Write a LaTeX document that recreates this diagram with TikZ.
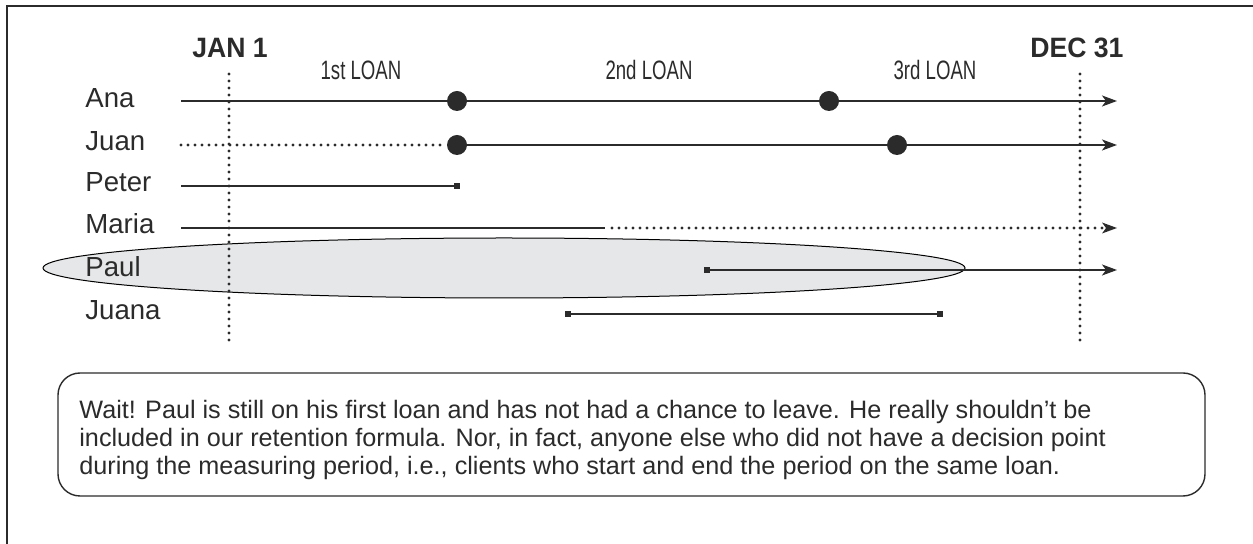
\documentclass[tikz,border=0pt]{standalone}
\usepackage{fontspec}
\setmainfont{Liberation Sans}
\usetikzlibrary{arrows.meta}
\definecolor{ink}{HTML}{2B2B2B}
\definecolor{ellfill}{HTML}{E6E7E8}
\tikzset{
  tl/.style={draw=ink, line width=0.8pt},
  dotline/.style={draw=ink, line width=1.6pt, line cap=round, dash pattern=on 0pt off 3.5pt},
  arr/.style={-{Stealth[length=7.5pt,width=5.5pt,inset=2pt]}},
  bigdot/.style={circle, fill=ink, inner sep=0pt, minimum size=10pt},
  sq/.style={rectangle, fill=ink, inner sep=0pt, minimum size=3pt},
  pname/.style={anchor=base west, inner sep=0pt, font=\fontsize{13.8}{16}\selectfont, text=ink},
  datelbl/.style={anchor=base west, inner sep=0pt, font=\fontsize{14}{16}\selectfont\bfseries, text=ink},
  loanlbl/.style={anchor=base, inner sep=0pt, text=ink},
}
\newcommand{\loanlabel}[1]{\scalebox{0.7}[1]{\fontsize{13.3}{15}\selectfont #1}}
\begin{document}
\begin{tikzpicture}[x=0.5pt, y=-0.5pt]
\useasboundingbox (0,0) rectangle (1253,544);
% frame (top and left)
\draw[line width=0.75pt, draw=ink] (7,544) -- (7,6) -- (1253,6);

% ellipse around Paul
\fill[ellfill] (504,268) ellipse [x radius=461, y radius=30];
\draw[line width=0.5pt, draw=black] (504,268) ellipse [x radius=461, y radius=30];

% date labels and guides
\node[datelbl] (jan) at (192,58) {\scalebox{0.95}[1]{JAN 1}};
\node[datelbl] (dec) at (1030,58) {\scalebox{0.95}[1]{DEC 31}};
\coordinate (janT) at (229,74);
\coordinate (janB) at (229,345);
\coordinate (decT) at (1080,74);
\coordinate (decB) at (1080,345);
\draw[dotline] (janT) -- (janB);
\draw[dotline] (decT) -- (decB);

% loan labels
\node[loanlbl] (l1) at (361,80) {\loanlabel{1st LOAN}};
\node[loanlbl] (l2) at (649,80) {\loanlabel{2nd LOAN}};
\node[loanlbl] (l3) at (935,80) {\loanlabel{3rd LOAN}};

% names
\node[pname] (ana) at (85,108) {Ana};
\node[pname] (juan) at (85,151) {Juan};
\node[pname] (peter) at (85,192) {Peter};
\node[pname] (maria) at (85,234) {Maria};
\node[pname] (paul) at (85,277) {Paul};
\node[pname] (juana) at (85,320) {Juana};

% Ana
\coordinate (anaS) at (181,101);
\coordinate (anaE) at (1117,101);
\draw[tl, arr] (anaS) -- (anaE);
\node[bigdot] (anaD1) at (457,101) {};
\node[bigdot] (anaD2) at (829,101) {};

% Juan
\coordinate (juanS) at (181,145);
\coordinate (juanE) at (1117,145);
\node[bigdot] (juanD1) at (457,145) {};
\draw[dotline] (juanS) -- (juanD1.west);
\draw[tl, arr] (juanD1) -- (juanE);
\node[bigdot] (juanD2) at (897,145) {};

% Peter
\coordinate (peterS) at (181,186);
\node[sq] (peterE) at (457,186) {};
\draw[tl] (peterS) -- (peterE);

% Maria
\coordinate (mariaS) at (181,228);
\coordinate (mariaM) at (605,228);
\coordinate (mariaM2) at (612,228);
\coordinate (mariaD) at (1104,228);
\coordinate (mariaE) at (1117,228);
\draw[tl] (mariaS) -- (mariaM);
\draw[dotline] (mariaM2) -- (mariaD);
\fill[ink] (mariaE) -- ++(-15,-5.5) -- ++(4,5.5) -- ++(-4,5.5) -- cycle;

% Paul
\node[sq] (paulS) at (707,270) {};
\coordinate (paulE) at (1117,270);
\draw[tl, arr] (paulS) -- (paulE);

% Juana
\node[sq] (juanaS) at (568,314) {};
\node[sq] (juanaE) at (940,314) {};
\draw[tl] (juanaS) -- (juanaE);

% note box
\draw[draw=ink, line width=0.7pt, rounded corners=11pt] (58,373) rectangle (1205,496);
\node[anchor=west, align=left, inner sep=0pt, text=ink,
      font=\fontsize{12.6}{14}\selectfont] (note) at (79,440)
{Wait! Paul is still on his first loan and has not had a chance to leave. He really shouldn’t be\\
included in our retention formula. Nor, in fact, anyone else who did not have a decision point\\
during the measuring period, i.e., clients who start and end the period on the same loan.};
\end{tikzpicture}
\end{document}
